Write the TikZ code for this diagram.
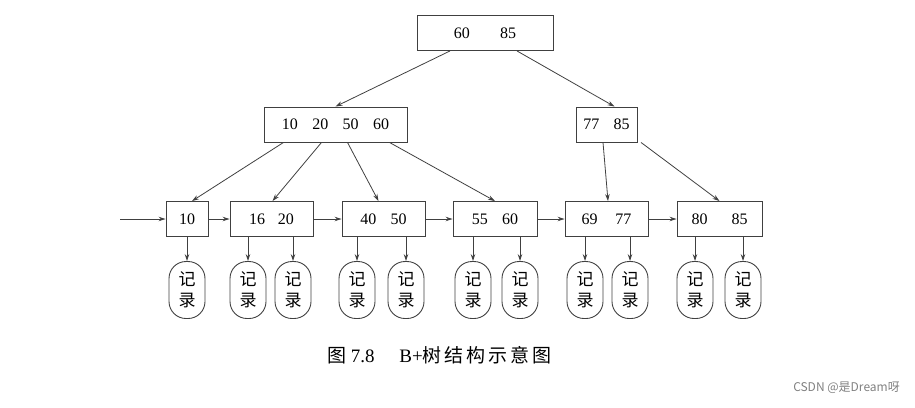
\documentclass[tikz,border=0pt]{standalone}
\usepackage{fontspec}
\setmainfont{Liberation Serif}
\newfontfamily\cjk{Noto Sans CJK SC}
\usetikzlibrary{arrows.meta}

\begin{document}
\begin{tikzpicture}[x=1pt, y=-1pt,
		key/.style={draw=black!75, line width=0.9pt, minimum height=35pt, inner sep=0pt, font=\fontsize{16}{19}\selectfont},
		rec/.style={draw=black!75, line width=0.9pt, rounded corners=17pt, minimum width=36pt, minimum height=57pt, inner sep=0pt, align=center, font=\cjk\fontsize{17}{21}\selectfont},
		ptr/.style={draw=black!75, line width=0.8pt, -{Stealth[length=7pt,width=4.5pt]}}]
			\useasboundingbox (0,0) rectangle (915,407);
			% index levels
			\node[key, minimum width=136pt] (root) at (485,33) {60\hspace{1.9em}85};
			\node[key, minimum width=143pt] (n1) at (335.5,124.5) {10\hspace{0.9em}20\hspace{0.9em}50\hspace{0.9em}60};
			\node[key, minimum width=61pt] (n2) at (606.5,124.5) {77\hspace{0.9em}85};
			\draw[ptr] ([xshift=-35pt]root.south) -- (n1.north);
			\draw[ptr] ([xshift=32pt]root.south) -- ([xshift=8pt]n2.north);
			% leaves
			\foreach [count=\i] \x/\w/\t in {187/42/10, 271.5/83/{16\hspace{0.8em}20}, 383.5/83/{40\hspace{0.9em}50}, 495/84/{55\hspace{0.9em}60}, 606.5/83/{69\hspace{1.1em}77}, 719.5/85/{80\hspace{1.5em}85}}
				{\node[key, minimum width=\w pt] (l\i) at (\x,219) {\t};}
			\foreach \i [evaluate=\i as \j using int(\i+1)] in {1,...,5}
				{\draw[ptr] (l\i.east) -- (l\j.west);}
			\coordinate (in) at (120,219);
			\draw[ptr] (in) -- (l1.west);
			\foreach \s/\e/\d in {-52/1/5, -14/2/1, 12/3/-5, 54/4/0}
				{\draw[ptr] ([xshift=\s pt]n1.south) -- ([xshift=\d pt]l\e.north);}
			\draw[ptr] ([xshift=-3.5pt]n2.south) -- ([xshift=1.5pt]l5.north);
			\draw[ptr] ([xshift=34.5pt]n2.south) -- (l6.north);
			% records
			\foreach [count=\k] \x/\p in {187/1, 248/2, 293/2, 357/3, 406/3, 473/4, 520/4, 585/5, 630/5, 695/6, 743/6} {
				\node[rec] (r\k) at (\x,290) {记\\录};
				\draw[ptr] (r\k.north |- l\p.south) -- (r\k.north);
			}
			% caption
			\node[anchor=west, inner sep=0pt, font=\fontsize{19}{22}\selectfont] (cap) at (327,355) {{\cjk 图} 7.8\hspace{1.3em}B+{\cjk 树\hspace{3pt}结\hspace{3pt}构\hspace{3pt}示\hspace{3pt}意\hspace{3pt}图}};
			\node[anchor=east, inner sep=0pt, text=black!50, font=\cjk\fontsize{12}{14}\selectfont] (mark) at (900,388) {CSDN @是Dream呀};
		\end{tikzpicture}
\end{document}
